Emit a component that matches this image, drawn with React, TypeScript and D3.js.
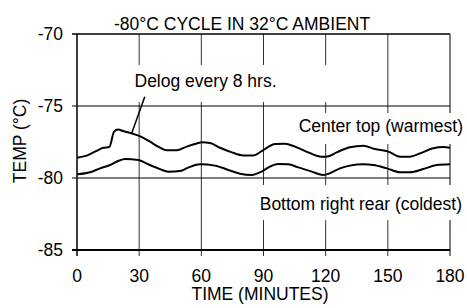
import { useEffect, useRef } from 'react'
import * as d3 from 'd3'

// readings (minutes, °C)
const topTimes = [0, 4.7, 8.7, 12.7, 15.6, 17.9, 19.9, 22.3, 26.4, 30, 35.2, 39.2, 43.3, 48.1, 52.9, 57.8, 60.2, 64.2, 69, 74.7, 80.3, 85.1, 89.9, 95.6, 100.4, 105.2, 111.6, 118, 121, 125.3, 131.7, 138.2, 143.8, 150.2, 155.9, 160.7, 165.5, 171.9, 176.8, 180]
const topTemps = [-78.59, -78.45, -78.17, -77.9, -77.85, -76.78, -76.64, -76.74, -76.9, -77.08, -77.48, -77.82, -78.08, -78.08, -77.82, -77.6, -77.52, -77.57, -77.9, -78.22, -78.43, -78.43, -78.06, -77.64, -77.62, -77.82, -78.22, -78.52, -78.5, -78.22, -77.87, -77.76, -77.99, -78.17, -78.52, -78.52, -78.29, -77.94, -77.85, -77.9]

const bottomTimes = [0, 6.3, 11.1, 15.9, 19.9, 23.2, 29.6, 35.2, 40, 44.1, 49.7, 53.7, 59.4, 66.6, 73, 78.7, 84.3, 89.1, 93.1, 97.1, 101.9, 106.8, 113.3, 118.9, 122.1, 126.9, 131.7, 138.2, 143, 149.5, 155.9, 160.7, 167.1, 173.6, 180]
const bottomTemps = [-79.74, -79.6, -79.33, -79.1, -78.82, -78.68, -78.75, -79.1, -79.38, -79.56, -79.51, -79.28, -79.05, -79.14, -79.44, -79.7, -79.79, -79.56, -79.21, -79.03, -79.05, -79.26, -79.56, -79.79, -79.67, -79.33, -79.14, -79.05, -79.1, -79.33, -79.6, -79.6, -79.38, -79.1, -79.05]

const xTicks = [0, 30, 60, 90, 120, 150, 180]
const yTicks = [-70, -75, -80, -85]

// pointer from the "Delog" note to the bump
const pointerTimes = [32.7, 26.4]
const pointerTemps = [-74.35, -76.9]

const W = 467
const H = 308
const FONT = '"Liberation Sans", Arial, sans-serif'

export default function App() {
  const ref = useRef<SVGSVGElement | null>(null)

  useEffect(() => {
    // no scrollbars eating the right edge
    document.documentElement.style.overflow = 'hidden'
    document.body.style.margin = '0'
    document.body.style.overflow = 'hidden'

    if (!ref.current) {return}
    const svg = d3.select(ref.current)
    svg.selectAll('*').remove()

    const x = d3.scaleLinear().domain([0, 180]).range([77, 450])
    const y = d3.scaleLinear().domain([-85, -70]).range([250, 34])

    const root = svg.append('g').attr('font-family', FONT).attr('font-size', 17.5).attr('fill', '#000')

    // vertical grid + frame
    root.selectAll('line.vg')
      .data(xTicks)
      .join('line')
      .attr('x1', (d) => x(d)).attr('x2', (d) => x(d))
      .attr('y1', y(-70)).attr('y2', y(-85) + 6)
      .attr('stroke', (d) => (d === 0 || d === 180 ? '#000' : '#333'))
      .attr('stroke-width', (d) => (d === 0 ? 1.5 : 1))

    // horizontal grid
    root.selectAll('line.hg')
      .data(yTicks)
      .join('line')
      .attr('x1', x(0) - 5).attr('x2', x(180))
      .attr('y1', (d) => y(d)).attr('y2', (d) => y(d))
      .attr('stroke', '#000')
      .attr('stroke-width', (d) => (d === -85 ? 2 : d === -70 ? 1.5 : 1))

    // white boxes behind the notes
    const boxes = [
      { x0: 132, x1: 334, y0: 65, y1: 102 },
      { x0: 296, x1: 467, y0: 113, y1: 144 },
      { x0: 252, x1: 467, y0: 185, y1: 220 },
    ]
    root.selectAll('rect.box')
      .data(boxes)
      .join('rect')
      .attr('x', (d) => d.x0).attr('y', (d) => d.y0)
      .attr('width', (d) => d.x1 - d.x0).attr('height', (d) => d.y1 - d.y0)
      .attr('fill', '#fff')

    const line = d3.line<[number, number]>()
      .x((d) => x(d[0]))
      .y((d) => y(d[1]))
      .curve(d3.curveMonotoneX)

    const series = [
      d3.zip(topTimes, topTemps) as [number, number][],
      d3.zip(bottomTimes, bottomTemps) as [number, number][],
    ]
    root.selectAll('path.s')
      .data(series)
      .join('path')
      .attr('d', (d) => line(d))
      .attr('fill', 'none')
      .attr('stroke', '#000')
      .attr('stroke-width', 2)
      .attr('stroke-linejoin', 'round')

    const pointer = d3.zip(pointerTimes, pointerTemps) as [number, number][]
    root.append('path')
      .attr('d', d3.line<[number, number]>().x((d) => x(d[0])).y((d) => y(d[1]))(pointer))
      .attr('stroke', '#000')
      .attr('stroke-width', 1.5)
      .attr('fill', 'none')

    // tick labels
    root.selectAll('text.yt')
      .data(yTicks)
      .join('text')
      .attr('x', 63)
      .attr('y', (d) => y(d) + 6)
      .attr('text-anchor', 'end')
      .text((d) => String(d))

    root.selectAll('text.xt')
      .data(xTicks)
      .join('text')
      .attr('x', (d) => x(d))
      .attr('y', 281.5)
      .attr('text-anchor', 'middle')
      .text((d) => String(d))

    root.append('text').attr('x', 114).attr('y', 30).text('-80°C CYCLE IN 32°C AMBIENT')
    root.append('text').attr('x', 260).attr('y', 300).attr('text-anchor', 'middle').text('TIME (MINUTES)')
    root.append('text')
      .attr('transform', 'translate(26,141) rotate(-90)')
      .attr('text-anchor', 'middle')
      .text('TEMP (°C)')

    root.append('text').attr('x', 134.5).attr('y', 86.5).text('Delog every 8 hrs.')
    root.append('text').attr('x', 463).attr('y', 132).attr('text-anchor', 'end').text('Center top (warmest)')
    root.append('text').attr('x', 462).attr('y', 210).attr('text-anchor', 'end').text('Bottom right rear (coldest)')
  }, [])

  return (
    <svg
      ref={ref}
      width={W}
      height={H}
      role="img"
      aria-label="-80°C cycle in 32°C ambient"
      style={{ position: 'fixed', left: 0, top: 0, background: '#fff', display: 'block' }}
    />
  )
}
